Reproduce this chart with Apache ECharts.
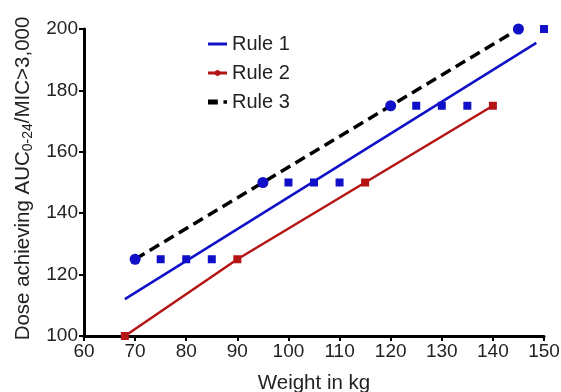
<!DOCTYPE html>
<html>
<head>
<meta charset="utf-8">
<script src="https://cdn.jsdelivr.net/npm/echarts@6/dist/echarts.min.js"></script>
<style>
  html, body { margin: 0; padding: 0; background: #fff; }
  #chart { width: 561px; height: 392px; }
</style>
</head>
<body>
<div id="chart"></div>
<script>
// Rule 1: fitted line (weight, dose)
const rule1Weight = [68, 148.5];
const rule1Dose = [112, 195.5];

// Rule 2: red line with square markers
const rule2Weight = [68, 90, 115, 140];
const rule2Dose = [100, 125, 150, 175];

// Rule 3: dashed line through blue circles
const rule3Weight = [70, 95, 120, 145];
const rule3Dose = [125, 150, 175, 200];

// blue square points (not in legend)
const squareWeight = [75, 80, 85, 100, 105, 110, 125, 130, 135, 150];
const squareDose = [125, 125, 125, 150, 150, 150, 175, 175, 175, 200];

const xTicks = [60, 150, 10];
const yTicks = [100, 200, 20];

const pair = (xs, ys) => xs.map((x, i) => [x, ys[i]]);

const BLUE = "#1010c8";
const RED = "#b41414";
const FONT = "Liberation Sans, Arial, sans-serif";

const chart = echarts.init(document.getElementById("chart"));

chart.setOption({
  animation: false,
  textStyle: { fontFamily: FONT },
  grid: { left: 84, right: 17, top: 29, bottom: 56, containLabel: false, outerBoundsMode: "none" },
  legend: {
    orient: "vertical",
    left: 203,
    top: 29,
    itemGap: 9,
    itemWidth: 19,
    itemHeight: 12,
    textStyle: { fontSize: 20, color: "#222", fontFamily: FONT },
    data: [
      { name: "Rule 1", icon: "path://M0,5 L16,5 L16,7.5 L0,7.5 Z", itemStyle: { color: BLUE } },
      { name: "Rule 2", icon: "path://M0,5 L5.5,5 L8,3.5 L10.5,5 L16,5 L16,7.5 L10.5,7.5 L8,9 L5.5,7.5 L0,7.5 Z", itemStyle: { color: RED } },
      { name: "Rule 3", icon: "path://M0,4.5 L7,4.5 L7,8 L0,8 Z M11,5 L13.5,5 L13.5,7.5 L11,7.5 Z", itemStyle: { color: "#000" } },
    ],
  },
  xAxis: {
    type: "value",
    min: xTicks[0],
    max: xTicks[1],
    interval: xTicks[2],
    name: "Weight in kg",
    nameLocation: "middle",
    nameGap: 37,
    nameTextStyle: { fontSize: 20.5, color: "#222" },
    axisLine: { onZero: false, lineStyle: { color: "#000", width: 3 } },
    axisTick: { length: 5, lineStyle: { color: "#000", width: 2 } },
    axisLabel: { fontSize: 19, color: "#222", margin: 6 },
    splitLine: { show: false },
  },
  yAxis: {
    type: "value",
    min: yTicks[0],
    max: yTicks[1],
    interval: yTicks[2],
    name: "{a|Dose achieving AUC}{s|0-24}{a|/MIC>3,000}",
    nameLocation: "middle",
    nameGap: 46,
    nameRotate: 90,
    nameTextStyle: {
      color: "#222",
      padding: [0, 0, 0, 8],
      rich: {
        a: { fontSize: 20.5, color: "#222", fontFamily: FONT },
        s: { fontSize: 14, color: "#222", fontFamily: FONT, padding: [10, 0, 0, 0] },
      },
    },
    axisLine: { onZero: false, lineStyle: { color: "#000", width: 3 } },
    axisTick: { length: 5, lineStyle: { color: "#000", width: 2 } },
    axisLabel: { fontSize: 19, color: "#222", margin: 6 },
    splitLine: { show: false },
  },
  series: [
    {
      name: "Rule 1",
      type: "line",
      symbol: "none",
      lineStyle: { color: BLUE, width: 2.5 },
      itemStyle: { color: BLUE },
      data: pair(rule1Weight, rule1Dose),
      z: 2,
    },
    {
      name: "Rule 2",
      type: "line",
      symbol: "rect",
      symbolSize: 8,
      lineStyle: { color: RED, width: 2.5 },
      itemStyle: { color: RED },
      data: pair(rule2Weight, rule2Dose),
      z: 3,
    },
    {
      name: "Rule 3",
      type: "line",
      symbol: "circle",
      symbolSize: 11,
      lineStyle: { color: "#000", width: 3.5, type: [11, 6] },
      itemStyle: { color: BLUE },
      data: pair(rule3Weight, rule3Dose),
      z: 4,
    },
    {
      name: "points",
      type: "scatter",
      symbol: "rect",
      symbolSize: 8,
      itemStyle: { color: BLUE, opacity: 1 },
      data: pair(squareWeight, squareDose),
      z: 2,
    },
  ],
});
</script>
</body>
</html>
